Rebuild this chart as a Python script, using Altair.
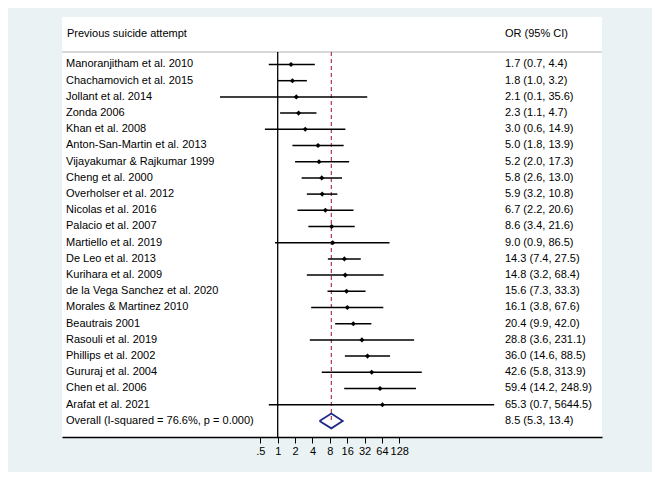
import altair as alt
import pandas as pd

studies = [
    "Manoranjitham et al. 2010", "Chachamovich et al. 2015", "Jollant et al. 2014",
    "Zonda 2006", "Khan et al. 2008", "Anton-San-Martin et al. 2013",
    "Vijayakumar & Rajkumar 1999", "Cheng et al. 2000", "Overholser et al. 2012",
    "Nicolas et al. 2016", "Palacio et al. 2007", "Martiello et al. 2019",
    "De Leo et al. 2013", "Kurihara et al. 2009", "de la Vega Sanchez et al. 2020",
    "Morales & Martinez 2010", "Beautrais 2001", "Rasouli et al. 2019",
    "Phillips et al. 2002", "Gururaj et al. 2004", "Chen et al. 2006",
    "Arafat et al. 2021",
]
or_est = [1.7, 1.8, 2.1, 2.3, 3.0, 5.0, 5.2, 5.8, 5.9, 6.7, 8.6, 9.0,
          14.3, 14.8, 15.6, 16.1, 20.4, 28.8, 36.0, 42.6, 59.4, 65.3]
ci_low = [0.7, 1.0, 0.1, 1.1, 0.6, 1.8, 2.0, 2.6, 3.2, 2.2, 3.4, 0.9,
          7.4, 3.2, 7.3, 3.8, 9.9, 3.6, 14.6, 5.8, 14.2, 0.7]
ci_high = [4.4, 3.2, 35.6, 4.7, 14.9, 13.9, 17.3, 13.0, 10.8, 20.6, 21.6, 86.5,
           27.5, 68.4, 33.3, 67.6, 42.0, 231.1, 88.5, 313.9, 248.9, 5644.5]

overall_label = "Overall (I-squared = 76.6%, p = 0.000)"
overall = [8.5, 5.3, 13.4]

header_left = "Previous suicide attempt"
header_right = "OR (95% CI)"
tick_values = [0.5, 1, 2, 4, 8, 16, 32, 64, 128]

FONT = "Liberation Sans"
FS = 11

rows = pd.DataFrame({
    "row": list(range(1, len(studies) + 1)),
    "study": studies,
    "or": or_est,
    "lo": ci_low,
    "hi": ci_high,
})
rows["label"] = [f"{o:.1f} ({l:.1f}, {h:.1f})" for o, l, h in zip(or_est, ci_low, ci_high)]

n_over = len(studies) + 1
text_df = pd.concat([
    rows[["row", "study", "label"]],
    pd.DataFrame({"row": [n_over], "study": [overall_label],
                  "label": [f"{overall[0]:.1f} ({overall[1]:.1f}, {overall[2]:.1f})"]}),
])

dh = 0.46
diamond_df = pd.DataFrame({
    "x": [overall[1], overall[0], overall[2], overall[0], overall[1]],
    "y": [n_over, n_over - dh, n_over, n_over + dh, n_over],
    "o": [0, 1, 2, 3, 4],
})

header_df = pd.DataFrame({"row": [-0.883], "left": [header_left], "right": [header_right]})

xscale = alt.Scale(type="log", domain=[0.0001827, 417100], nice=False)
yscale = alt.Scale(domain=[-1.932, 23.994], reverse=True, nice=False, zero=False)

xaxis = alt.Axis(values=tick_values, grid=False, title=None,
                 labelExpr="datum.value < 1 ? '.5' : format(datum.value, 'd')",
                 labelFont=FONT, labelFontSize=11, labelColor="#000000",
                 domainColor="#000000", domainWidth=1.3, tickColor="#000000",
                 tickSize=6, tickWidth=1, labelPadding=2, labelFlush=False,
                 labelOverlap=False)

sep = alt.Chart(pd.DataFrame({"a": [0]})).mark_rule(color="#d8d8d8", strokeWidth=2).encode(
    x=alt.value(0), x2=alt.value(540), y=alt.value(35))

null_line = alt.Chart(pd.DataFrame({"v": [1]})).mark_rule(color="#000000", strokeWidth=1.3).encode(
    x=alt.X("v:Q", scale=xscale, axis=xaxis), y=alt.value(35), y2=alt.value(420))

ov_line = alt.Chart(pd.DataFrame({"v": [overall[0]]})).mark_rule(
    color="#b3364a", strokeWidth=1.2, strokeDash=[4, 3]).encode(
    x=alt.X("v:Q", scale=xscale), y=alt.value(35), y2=alt.value(405))

ci = alt.Chart(rows).mark_rule(color="#000000", strokeWidth=1.5).encode(
    x=alt.X("lo:Q", scale=xscale), x2="hi:Q",
    y=alt.Y("row:Q", scale=yscale, axis=None))

pts = alt.Chart(rows).mark_point(shape="diamond", filled=True, size=26, color="#000000", opacity=1).encode(
    x=alt.X("or:Q", scale=xscale), y=alt.Y("row:Q", scale=yscale))

diamond = alt.Chart(diamond_df).mark_line(color="#1f2a8a", strokeWidth=1.8).encode(
    x=alt.X("x:Q", scale=xscale), y=alt.Y("y:Q", scale=yscale), order="o:Q")

left_text = alt.Chart(text_df).mark_text(align="left", baseline="middle", font=FONT,
                                         fontSize=FS, color="#000000").encode(
    x=alt.value(4), y=alt.Y("row:Q", scale=yscale), text="study:N")

right_text = alt.Chart(text_df).mark_text(align="left", baseline="middle", font=FONT,
                                          fontSize=FS, color="#000000").encode(
    x=alt.value(443), y=alt.Y("row:Q", scale=yscale), text="label:N")

head_l = alt.Chart(header_df).mark_text(align="left", baseline="middle", font=FONT,
                                        fontSize=FS, color="#000000").encode(
    x=alt.value(5), y=alt.Y("row:Q", scale=yscale), text="left:N")
head_r = alt.Chart(header_df).mark_text(align="left", baseline="middle", font=FONT,
                                        fontSize=FS, color="#000000").encode(
    x=alt.value(443), y=alt.Y("row:Q", scale=yscale), text="right:N")

chart = alt.layer(sep, null_line, ov_line, ci, pts, diamond, left_text, right_text, head_l, head_r).properties(
    width=540, height=420,
    autosize=alt.AutoSizeParams(type="none"),
    padding={"left": 54, "top": 9, "right": 50, "bottom": 35},
    background="#eaf2f3",
).configure_view(fill="#ffffff", stroke=None)

chart.save("out.html", embed_options={"renderer": "svg", "actions": False})
